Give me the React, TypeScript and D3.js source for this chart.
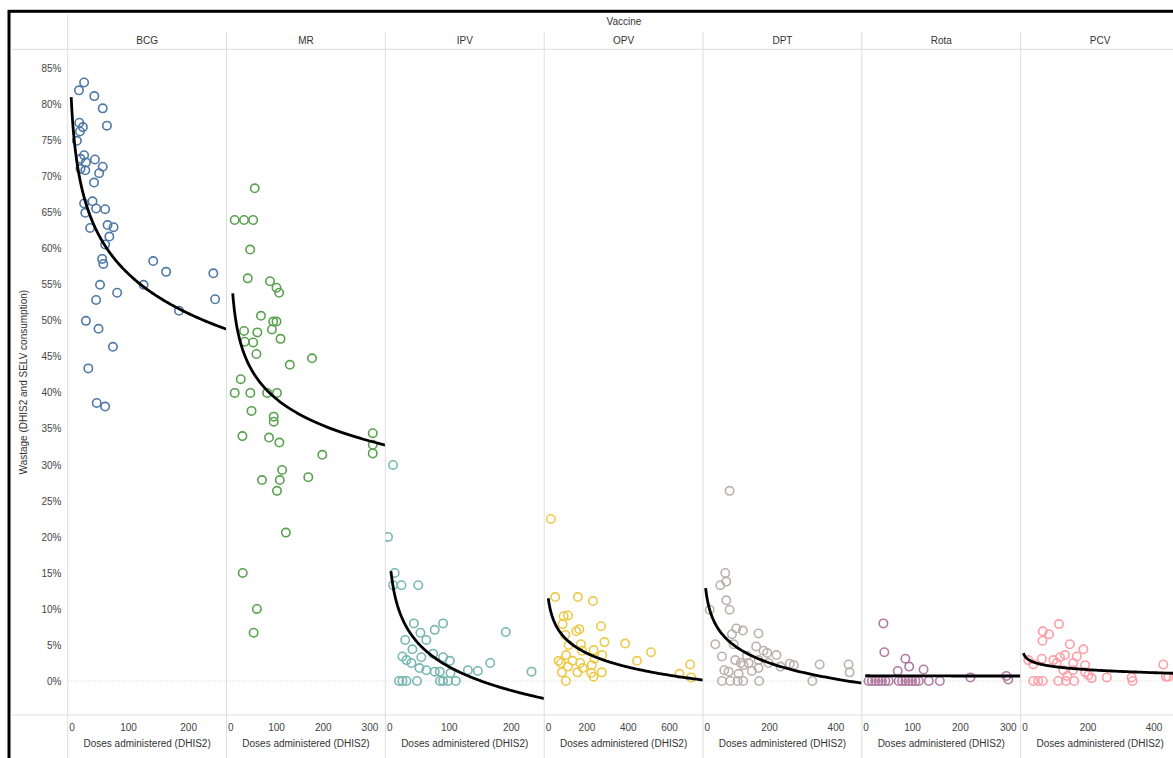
import React from "react";
import * as d3 from "d3";

// ---------- data ----------
const vaccines = ["BCG", "MR", "IPV", "OPV", "DPT", "Rota", "PCV"];
const colors = ["#4E79A7", "#59A14F", "#76B7B2", "#EDC948", "#BAB0AC", "#B07AA1", "#FF9DA7"];

// [doses administered, wastage %]
const bcgPoints: [number, number][] = [
  [26, 83.1], [17.5, 82.0], [43, 81.2], [57, 79.5], [64, 77.1], [18, 77.5], [24, 76.9], [19, 76.3], [14, 75.0],
  [26, 73.0], [44, 72.4], [20, 72.5], [29, 72.0], [57, 71.4], [20, 71.1], [28, 70.9], [51, 70.5], [42.5, 69.2],
  [40, 66.6], [26, 66.3], [46, 65.6], [61, 65.5], [28, 65.0], [65, 63.3], [75, 63.0], [36, 62.9], [68, 61.7],
  [61, 60.6], [56, 58.6], [58, 57.9], [141, 58.3], [162.5, 56.8], [241, 56.6], [125, 55.0], [52.5, 55.0],
  [81, 53.9], [46, 52.9], [244, 53.0], [184, 51.4], [29, 50.0], [50, 48.9], [74, 46.4], [33, 43.4], [47, 38.6], [61, 38.1],
];
const mrPoints: [number, number][] = [
  [53.4, 68.4], [10.5, 64.0], [30.5, 64.0], [50, 64.0], [43.6, 59.9], [38.4, 55.9], [86, 55.5], [100, 54.6],
  [105.6, 53.9], [66.7, 50.7], [93, 49.9], [100, 49.9], [30.5, 48.6], [59, 48.4], [90, 48.8], [108.6, 47.5],
  [32, 47.1], [50, 47.0], [57, 45.4], [176, 44.8], [128.5, 43.9], [23.4, 41.9], [10.5, 40.0], [44, 40.0],
  [80, 40.0], [101, 40.0], [46.5, 37.5], [94, 36.7], [94, 36.0], [27, 34.0], [84, 33.8], [106, 33.1],
  [306, 34.4], [306, 32.8], [306, 31.6], [198, 31.4], [112, 29.3], [69, 27.9], [107, 27.9], [168, 28.3],
  [101, 26.4], [120, 20.6], [27.7, 15.0], [58, 10.0], [51, 6.7],
];
const ipvPoints: [number, number][] = [
  [9.4, 30.0], [1.3, 20.0], [12, 15.0], [9.4, 13.3], [23, 13.3], [50, 13.3], [43, 8.0], [90, 8.0], [76.6, 7.1],
  [191, 6.8], [53.5, 6.7], [63, 5.7], [29, 5.7], [40.6, 4.4], [24.5, 3.4], [31, 2.9], [39, 2.5], [55, 3.3],
  [74, 3.8], [90, 3.3], [101, 2.8], [52, 1.8], [63, 1.5], [76.6, 1.3], [84.7, 1.3], [102, 1.1], [130, 1.5],
  [146, 1.4], [166, 2.5], [232.6, 1.3], [19, 0], [24.5, 0], [31, 0], [48, 0], [85, 0], [90, 0], [98, 0], [110.5, 0],
];
const opvPoints: [number, number][] = [
  [25.5, 22.5], [46.5, 11.65], [156, 11.65], [229, 11.1], [87, 9.0], [108, 9.1], [82, 7.9], [268, 7.6],
  [148, 6.9], [163, 7.2], [95, 6.4], [285, 5.4], [385, 5.2], [111, 5.0], [171, 5.1], [176, 4.2], [232, 4.3],
  [510, 4.0], [99, 3.6], [274, 3.6], [442, 2.8], [62.5, 2.8], [130, 2.8], [237, 3.1], [700, 2.3], [74, 2.5],
  [167.5, 2.5], [224, 2.2], [79, 1.2], [154, 1.2], [180, 1.8], [221, 1.1], [272, 1.2], [232, 0.6], [648, 1.0],
  [704, 0.5], [98, 0.0], [108, 2.0],
];
const dptPoints: [number, number][] = [
  [80, 26.4], [67, 15.0], [52, 13.3], [70, 13.8], [70, 11.2], [80, 9.9], [20, 9.9], [100, 7.3], [120, 7.0],
  [87, 6.5], [167, 6.6], [92, 5.1], [37, 5.1], [160, 4.8], [182, 4.2], [193, 3.9], [221, 3.6], [57, 3.4],
  [132, 3.5], [97, 2.9], [114, 2.5], [137, 2.5], [167, 2.9], [197, 2.5], [261, 2.4], [273, 2.2], [351, 2.3],
  [438, 2.3], [122, 2.2], [233, 2.0], [64, 1.5], [77, 1.3], [147, 1.4], [167, 1.8], [107, 1.0], [441, 1.2],
  [57, 0], [82, 0], [104, 0], [121, 0], [169, 0], [329, 0],
];
const rotaPoints: [number, number][] = [
  [39, 8.0], [41, 4.0], [85, 3.1], [93, 2.0], [69, 1.4], [123, 1.6], [221, 0.5], [296, 0.7], [300, 0.2],
  [8, 0], [15, 0], [22, 0], [29, 0], [36, 0], [43, 0], [50, 0], [71, 0], [78, 0], [85, 0], [92, 0], [99, 0],
  [106, 0], [113, 0], [134, 0], [157, 0],
];
const pcvPoints: [number, number][] = [
  [112, 7.9], [63, 6.9], [82, 6.5], [62, 5.6], [145, 5.1], [186, 4.4], [130, 3.6], [166, 3.4], [60, 3.1],
  [95, 2.9], [115, 3.3], [19, 2.9], [34, 2.3], [105, 2.5], [155, 2.5], [191, 2.2], [125, 1.5], [155, 1.5],
  [191, 1.2], [201, 0.8], [211, 0.4], [137, 0.7], [257, 0.5], [332, 0.5], [335, 0], [428, 2.3], [436, 0.6],
  [443, 0.6], [34, 0], [49, 0], [63, 0], [110, 0], [133, 0], [158, 0],
];
const allPoints = [bcgPoints, mrPoints, ipvPoints, opvPoints, dptPoints, rotaPoints, pcvPoints];

// per-panel x domains and ticks
const xDomains: [number, number][] = [[-1.3, 263], [-7, 333], [-3, 253], [-7, 762], [0, 478], [-6, 326], [-4, 477]];
const xTicks = [[0, 100, 200], [0, 100, 200, 300], [0, 100, 200], [0, 200, 400, 600], [0, 200, 400], [0, 100, 200, 300], [0, 200, 400]];

// logarithmic trend lines: wastage = a + b * ln(doses), drawn from start to axis end
const trendA = [92.97, 63.6, 23.74, 18.58, 19.54, 0.75, 4.75];
const trendB = [-7.92, -5.31, -4.73, -2.78, -3.216, -0.01, -0.6];
const trendStart = [4.5, 6.3, 6, 12.8, 7.9, 1, 4.3];

const yTicks = d3.range(0, 90, 5);

// ---------- layout ----------
const W = 1173, H = 758;
const paneLeft0 = 67.7;
const paneW = 158.83;
const plotTop = 49.3, plotBottom = 715;
const FONT = "Arial, 'Liberation Sans', sans-serif";
const GRID = "#dedede";

export default function App() {
  const y = d3.scaleLinear().domain([-4.72, 87.7]).range([plotBottom, plotTop]);

  return (
    <svg width={W} height={H} style={{ position: "absolute", left: 0, top: 0, background: "#fff" }} fontFamily={FONT}>
      <defs>
        {vaccines.map((v, i) => (
          <clipPath id={`clip${i}`} key={v}>
            <rect x={paneLeft0 + i * paneW} y={plotTop} width={paneW} height={plotBottom - plotTop} />
          </clipPath>
        ))}
      </defs>

      {/* horizontal rules */}
      <line x1={12} x2={W} y1={plotTop} y2={plotTop} stroke={GRID} strokeWidth={1} />
      <line x1={12} x2={W} y1={plotBottom} y2={plotBottom} stroke={GRID} strokeWidth={1} />
      {/* left axis rule */}
      <line x1={paneLeft0} x2={paneLeft0} y1={15} y2={H} stroke={GRID} strokeWidth={1} />
      {/* zero line */}
      <line x1={paneLeft0} x2={W} y1={y(0)} y2={y(0)} stroke="#cfcfcf" strokeWidth={1} strokeDasharray="1,2" />

      {/* Title */}
      <text x={624} y={24.5} fontSize={10} fill="#333" textAnchor="middle">Vaccine</text>

      {/* y axis */}
      {yTicks.map((t) => (
        <text key={t} x={61.5} y={y(t) + 3.6} fontSize={10} fill="#444" textAnchor="end">{`${t}%`}</text>
      ))}
      <text transform={`translate(26.5,${(plotTop + plotBottom) / 2}) rotate(-90)`} fontSize={10} fill="#333" textAnchor="middle">
        Wastage (DHIS2 and SELV consumption)
      </text>

      {vaccines.map((v, i) => {
        const left = paneLeft0 + i * paneW;
        const right = left + paneW;
        const x = d3.scaleLinear().domain(xDomains[i]).range([left, right]);
        const a = trendA[i], b = trendB[i];
        const xs = d3.range(0, 201).map((k) => {
          const lo = Math.log(trendStart[i]), hi = Math.log(xDomains[i][1]);
          return Math.exp(lo + (hi - lo) * (k / 200));
        });
        const line = d3.line<number>().x((d) => x(d)).y((d) => y(a + b * Math.log(d)));
        return (
          <g key={v}>
            {i > 0 && <line x1={left} x2={left} y1={31.7} y2={H} stroke={GRID} strokeWidth={1} />}
            <text x={(left + right) / 2} y={43.6} fontSize={10} fill="#333" textAnchor="middle">{v}</text>
            <g clipPath={`url(#clip${i})`}>
              {allPoints[i].map((p, k) => (
                <circle key={k} cx={x(p[0])} cy={y(p[1])} r={4.2} fill="none" stroke={colors[i]} strokeWidth={1.6} />
              ))}
              <path d={line(xs) || ""} fill="none" stroke="#000" strokeWidth={2.8} />
            </g>
            {xTicks[i].map((t) => {
              const label = String(t);
              const half = label.length * 2.8;
              const cx = Math.max(left + half + 1.5, Math.min(right - half - 2, x(t)));
              return (
                <text key={t} x={cx} y={730.5} fontSize={10} fill="#444" textAnchor="middle">{label}</text>
              );
            })}
            <text x={(left + right) / 2} y={746.8} fontSize={10} fill="#333" textAnchor="middle">Doses administered (DHIS2)</text>
          </g>
        );
      })}

      {/* outer frame */}
      <rect x={9} y={11.3} width={W + 20} height={H + 20} fill="none" stroke="#000" strokeWidth={3} />
    </svg>
  );
}
